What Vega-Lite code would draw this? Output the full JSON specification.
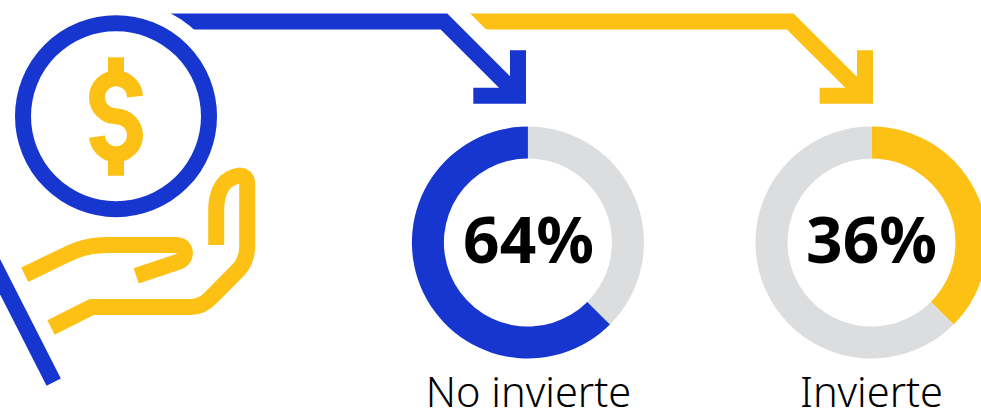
{
"$schema":"https://vega.github.io/schema/vega-lite/v6.json",
"width":981,"height":412,"padding":0,"autosize":{"type":"none"},"background":"white",
"config":{"view":{"stroke":null},"axis":{"domain":false}},
"datasets":{
"yellowArrow":[
{"s":"y1","c":"amarillo","i":0,"x":465,"y":21.5},{"s":"y1","c":"amarillo","i":1,"x":790.3,"y":21.5},{"s":"y1","c":"amarillo","i":2,"x":865,"y":96.2},
{"s":"y2","c":"amarillo","i":0,"x":865,"y":50.3},{"s":"y2","c":"amarillo","i":1,"x":865,"y":95.7},{"s":"y2","c":"amarillo","i":2,"x":819.6,"y":95.7}],
"mask":[{"s":"m","c":"blanco","i":0,"x":420,"y":-2.5},{"s":"m","c":"blanco","i":1,"x":475,"y":52.5}],
"blueArrow":[
{"s":"b1","c":"azul","i":0,"x":165,"y":21.5},{"s":"b1","c":"azul","i":1,"x":444,"y":21.5},{"s":"b1","c":"azul","i":2,"x":518,"y":95.5},
{"s":"b2","c":"azul","i":0,"x":518,"y":50.3},{"s":"b2","c":"azul","i":1,"x":518,"y":95.7},{"s":"b2","c":"azul","i":2,"x":473.3,"y":95.7}],
"coin":[{"x":116,"y":116.2}],
"dollar":[
{"s":"barTop","c":"amarillo","i":0,"x":116,"y":57.3},{"s":"barTop","c":"amarillo","i":1,"x":116,"y":80},
{"s":"barBot","c":"amarillo","i":0,"x":116,"y":153},{"s":"barBot","c":"amarillo","i":1,"x":116,"y":175.7},
{"s":"dollar","c":"amarillo","i":0,"x":135,"y":96.7},{"s":"dollar","c":"amarillo","i":1,"x":133.6,"y":90},{"s":"dollar","c":"amarillo","i":2,"x":129.4,"y":83.9},{"s":"dollar","c":"amarillo","i":3,"x":123.3,"y":79.8},{"s":"dollar","c":"amarillo","i":4,"x":116,"y":78.3},{"s":"dollar","c":"amarillo","i":5,"x":108.7,"y":79.8},{"s":"dollar","c":"amarillo","i":6,"x":102.6,"y":83.9},{"s":"dollar","c":"amarillo","i":7,"x":98.4,"y":90},{"s":"dollar","c":"amarillo","i":8,"x":97,"y":97.3},{"s":"dollar","c":"amarillo","i":9,"x":98.4,"y":104.6},{"s":"dollar","c":"amarillo","i":10,"x":102.6,"y":110.7},{"s":"dollar","c":"amarillo","i":11,"x":108.7,"y":114.9},{"s":"dollar","c":"amarillo","i":12,"x":116,"y":116.3},{"s":"dollar","c":"amarillo","i":13,"x":123.3,"y":117.8},{"s":"dollar","c":"amarillo","i":14,"x":129.4,"y":121.9},{"s":"dollar","c":"amarillo","i":15,"x":133.6,"y":128},{"s":"dollar","c":"amarillo","i":16,"x":135,"y":135.3},{"s":"dollar","c":"amarillo","i":17,"x":133.6,"y":142.6},{"s":"dollar","c":"amarillo","i":18,"x":129.4,"y":148.7},{"s":"dollar","c":"amarillo","i":19,"x":123.3,"y":152.9},{"s":"dollar","c":"amarillo","i":20,"x":116,"y":154.3},{"s":"dollar","c":"amarillo","i":21,"x":108.7,"y":152.9},{"s":"dollar","c":"amarillo","i":22,"x":102.6,"y":148.7},{"s":"dollar","c":"amarillo","i":23,"x":98.4,"y":142.6},{"s":"dollar","c":"amarillo","i":24,"x":97,"y":136.7}],
"hand":[
{"s":"slash","c":"azul","i":0,"x":-10,"y":256.9},{"s":"slash","c":"azul","i":1,"x":53.7,"y":382.2},
{"s":"finger","c":"amarillo","i":0,"x":24.7,"y":274.7},{"s":"finger","c":"amarillo","i":1,"x":68,"y":253.9},{"s":"finger","c":"amarillo","i":2,"x":72,"y":252.1},{"s":"finger","c":"amarillo","i":3,"x":78,"y":249.7},{"s":"finger","c":"amarillo","i":4,"x":85,"y":247.6},{"s":"finger","c":"amarillo","i":5,"x":93,"y":246},{"s":"finger","c":"amarillo","i":6,"x":101,"y":245.2},{"s":"finger","c":"amarillo","i":7,"x":107,"y":245},{"s":"finger","c":"amarillo","i":8,"x":177,"y":245},{"s":"finger","c":"amarillo","i":9,"x":180,"y":245.6},{"s":"finger","c":"amarillo","i":10,"x":182.7,"y":247.3},{"s":"finger","c":"amarillo","i":11,"x":184.4,"y":250},{"s":"finger","c":"amarillo","i":12,"x":185,"y":253},{"s":"finger","c":"amarillo","i":13,"x":184.5,"y":256},{"s":"finger","c":"amarillo","i":14,"x":183,"y":258.8},{"s":"finger","c":"amarillo","i":15,"x":180.5,"y":260.8},{"s":"finger","c":"amarillo","i":16,"x":178,"y":261.8},{"s":"finger","c":"amarillo","i":17,"x":136.2,"y":275.8},
{"s":"palm","c":"amarillo","i":0,"x":51,"y":327.5},{"s":"palm","c":"amarillo","i":1,"x":91.7,"y":307},{"s":"palm","c":"amarillo","i":2,"x":190,"y":307},{"s":"palm","c":"amarillo","i":3,"x":196,"y":306.4},{"s":"palm","c":"amarillo","i":4,"x":201.5,"y":304.6},{"s":"palm","c":"amarillo","i":5,"x":206.5,"y":301.7},{"s":"palm","c":"amarillo","i":6,"x":210.5,"y":298},{"s":"palm","c":"amarillo","i":7,"x":238.3,"y":270},{"s":"palm","c":"amarillo","i":8,"x":241.5,"y":266},{"s":"palm","c":"amarillo","i":9,"x":244,"y":261.5},{"s":"palm","c":"amarillo","i":10,"x":246.3,"y":255},{"s":"palm","c":"amarillo","i":11,"x":247.2,"y":248},{"s":"palm","c":"amarillo","i":12,"x":247.2,"y":183},{"s":"palm","c":"amarillo","i":13,"x":246.6,"y":180},{"s":"palm","c":"amarillo","i":14,"x":245,"y":177.8},{"s":"palm","c":"amarillo","i":15,"x":242.8,"y":176.2},{"s":"palm","c":"amarillo","i":16,"x":239.6,"y":175.6},{"s":"palm","c":"amarillo","i":17,"x":235,"y":176.6},{"s":"palm","c":"amarillo","i":18,"x":230,"y":178.7},{"s":"palm","c":"amarillo","i":19,"x":226,"y":181.5},{"s":"palm","c":"amarillo","i":20,"x":222.5,"y":185.5},{"s":"palm","c":"amarillo","i":21,"x":219.5,"y":191},{"s":"palm","c":"amarillo","i":22,"x":217.5,"y":197.5},{"s":"palm","c":"amarillo","i":23,"x":216.4,"y":204},{"s":"palm","c":"amarillo","i":24,"x":216.2,"y":211},{"s":"palm","c":"amarillo","i":25,"x":216.2,"y":245}],
"donuts":[
{"grupo":"No invierte","c":"gris","desde":0,"hasta":37.5,"x":527.9,"y":242.5},
{"grupo":"No invierte","c":"azul","desde":37.5,"hasta":100,"x":527.9,"y":242.5},
{"grupo":"Invierte","c":"amarillo","desde":0,"hasta":37.5,"x":871.5,"y":242.5},
{"grupo":"Invierte","c":"gris","desde":37.5,"hasta":100,"x":871.5,"y":242.5}],
"labels":[
{"t":"64%","x":528.5,"y":262.5},{"t":"36%","x":871.5,"y":262.5}],
"names":[{"t":"No invierte","x":528.5,"y":407},{"t":"Invierte","x":871.5,"y":407}]
},
"encoding":{
"x":{"field":"x","type":"quantitative","axis":null,"scale":{"domain":[0,981],"nice":false,"zero":false}},
"y":{"field":"y","type":"quantitative","axis":null,"scale":{"domain":[412,0],"nice":false,"zero":false}}
},
"layer":[
{"data":{"name":"yellowArrow"},"mark":{"type":"line","strokeWidth":16,"strokeCap":"butt","strokeJoin":"miter","clip":true},
 "encoding":{"detail":{"field":"s"},"order":{"field":"i"},"color":{"field":"c","legend":null,"scale":{"domain":["azul","amarillo","blanco","gris"],"range":["#1736CF","#FDC116","#FFFFFF","#DCDDDF"]}}}},
{"data":{"name":"mask"},"mark":{"type":"line","strokeWidth":48.4,"strokeCap":"butt","clip":true},
 "encoding":{"detail":{"field":"s"},"order":{"field":"i"},"color":{"field":"c","legend":null}}},
{"data":{"name":"blueArrow"},"mark":{"type":"line","strokeWidth":16,"strokeCap":"butt","strokeJoin":"miter","clip":true},
 "encoding":{"detail":{"field":"s"},"order":{"field":"i"},"color":{"field":"c","legend":null}}},
{"data":{"name":"coin"},"mark":{"type":"point","shape":"circle","filled":true,"fill":"#FFFFFF","stroke":null,"size":54382,"opacity":1}},
{"data":{"name":"coin"},"mark":{"type":"point","shape":"circle","filled":false,"stroke":"#1736CF","strokeWidth":16,"size":34596,"opacity":1}},
{"data":{"name":"dollar"},"mark":{"type":"line","strokeWidth":16,"strokeCap":"butt","strokeJoin":"round","interpolate":"catmull-rom"},
 "encoding":{"detail":{"field":"s"},"order":{"field":"i"},"color":{"field":"c","legend":null}}},
{"data":{"name":"hand"},"mark":{"type":"line","strokeWidth":16,"strokeCap":"butt","strokeJoin":"round","clip":true},
 "encoding":{"detail":{"field":"s"},"order":{"field":"i"},"color":{"field":"c","legend":null}}},
{"data":{"name":"donuts"},"mark":{"type":"arc","innerRadius":84,"outerRadius":116},
 "encoding":{"theta":{"field":"desde","type":"quantitative","scale":{"domain":[0,100]}},"theta2":{"field":"hasta"},"color":{"field":"c","legend":null}}},
{"data":{"name":"labels"},"mark":{"type":"text","font":"Noto Sans","fontWeight":700,"fontSize":64,"baseline":"alphabetic","align":"center","color":"#000000"},
 "encoding":{"text":{"field":"t"}}},
{"data":{"name":"names"},"mark":{"type":"text","font":"Noto Sans","fontWeight":300,"fontSize":41.5,"baseline":"alphabetic","align":"center","color":"#000000"},
 "encoding":{"text":{"field":"t"}}}
]
}
